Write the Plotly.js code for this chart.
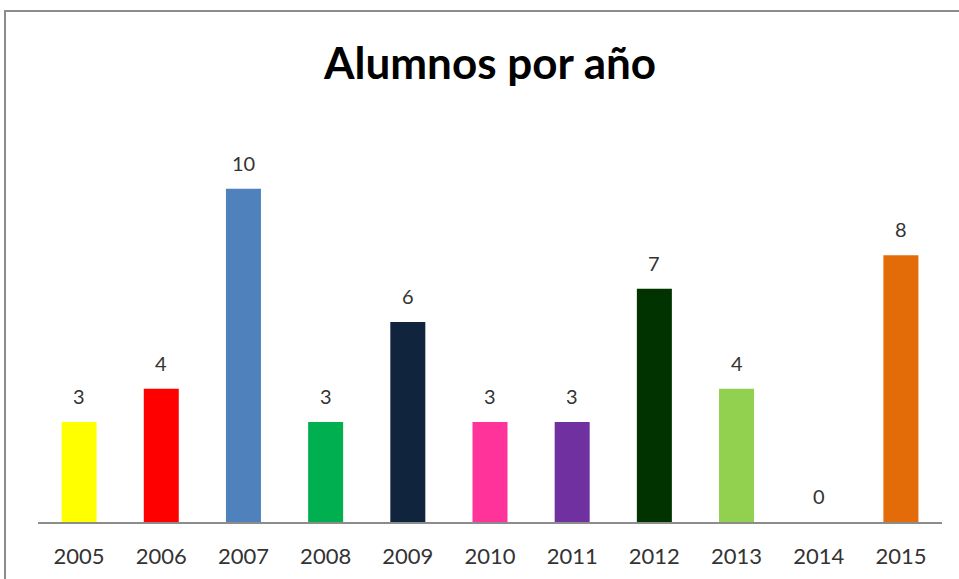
<!DOCTYPE html>
<html>
<head>
<meta charset="utf-8">
<script src="https://cdn.plot.ly/plotly-3.0.1.min.js"></script>
<style>
html,body{margin:0;padding:0;background:#fff;overflow:hidden;}
#frame{position:absolute;left:4px;top:10px;width:1000px;height:700px;border:2px solid #8c8c8c;box-sizing:border-box;pointer-events:none;z-index:2;}
#chart{position:absolute;left:0;top:0;width:959px;height:579px;}
</style>
</head>
<body>
<div id="chart"></div>
<div id="frame"></div>
<script>
const years = ['2005','2006','2007','2008','2009','2010','2011','2012','2013','2014','2015'];
const alumnos = [3, 4, 10, 3, 6, 3, 3, 7, 4, 0, 8];
const barColors = ['#FFFF00','#FF0000','#4F81BD','#00B050','#10243E','#FF3399','#7030A0','#003300','#92D050','#FFFFFF','#E36C09'];

const trace = {
  type: 'bar',
  x: years,
  y: alumnos,
  marker: {color: barColors, line: {width: 0}},
  hoverinfo: 'x+y'
};

// category axis: annotations are placed by category index
const annotations = years.map((yr, i) => ({
  x: i, y: alumnos[i], xref: 'x', yref: 'y',
  text: String(alumnos[i]), showarrow: false,
  yanchor: 'middle', yshift: 26,
  font: {family: 'Lato, sans-serif', size: 20, color: '#333333'}
}));

const layout = {
  width: 959, height: 579,
  margin: {l: 38, r: 17, t: 122, b: 57},
  paper_bgcolor: '#ffffff', plot_bgcolor: '#ffffff',
  bargap: 0.574,
  showlegend: false,
  title: {
    text: '<b>Alumnos por año</b>',
    x: 0.511, xref: 'container', xanchor: 'center',
    y: 0.891, yref: 'container', yanchor: 'middle',
    font: {family: 'Lato, sans-serif', size: 44, color: '#000000'}
  },
  xaxis: {
    type: 'category',
    showline: true, linecolor: '#8c8c8c', linewidth: 1.5,
    ticks: '', showgrid: false, zeroline: false,
    ticklabelstandoff: 14,
    tickfont: {family: 'Lato, sans-serif', size: 22, color: '#333333'}
  },
  yaxis: {
    range: [0, 12], visible: false, showgrid: false, zeroline: false, fixedrange: true
  },
  annotations: annotations
};

Plotly.newPlot('chart', [trace], layout, {displayModeBar: false, staticPlot: true});
</script>
</body>
</html>
